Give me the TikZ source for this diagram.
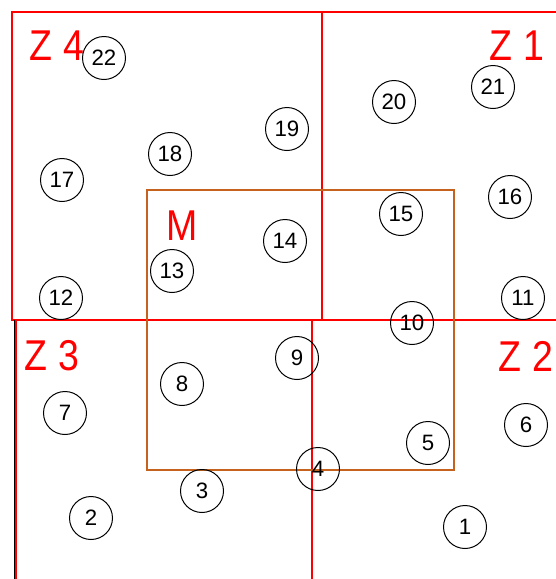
\documentclass[tikz,border=0pt]{standalone}
\usepackage{fontspec}
\setmainfont{Liberation Sans}
\definecolor{mbrown}{RGB}{196,98,30}
\tikzset{every picture/.style={line width=0.75pt}}
\tikzset{
    zone/.style={draw=red, line width=2pt},
    mzone/.style={draw=mbrown, line width=2.3pt},
    site/.style={circle, draw, line width=0.85pt, inner sep=0pt, minimum size=1.29cm,
        font=\fontsize{19}{19}\selectfont},
    zonelabel/.style={text=red, inner sep=0pt, yscale=1.15, font=\fontsize{32}{32}\selectfont}
}

\begin{document}
\begin{tikzpicture}[x=0.03cm, y=-0.03cm]
    \useasboundingbox (0,0) rectangle (556,579);
    \clip (0,0) rectangle (556,579);
    \begin{scope}
        \draw[zone] (12,12) rectangle (322,320);
        \draw[zone] (322,12) rectangle (600,320);
        \draw[black, line width=1pt] (14.3,320) -- (14.3,600);
        \draw[zone] (16,320) rectangle (312,620);
        \draw[zone] (312,320) rectangle (600,620);
        \draw[mzone] (147,190) rectangle (454,470);
    \end{scope}
    \node[zonelabel] (z4) at (57,46) {Z 4};
    \node[zonelabel] (z1) at (517,46) {Z 1};
    \node[zonelabel] (z3) at (52,356) {Z 3};
    \node[zonelabel] (z2) at (526,356) {Z 2};
    \node[zonelabel] (m) at (182,226) {M};
    \foreach \n/\x/\y in {1/465/527, 2/91/518, 3/202/491, 4/318/469, 5/428/443,
        6/526/425, 7/65/413, 8/182/384, 9/297/358, 10/412/323, 11/523/298,
        12/61/298, 13/172/271, 14/285/241, 15/401/214, 16/510/197, 17/62/180,
        18/170/154, 19/287/129, 20/394/102, 21/493/87, 22/104/58}
        \node[site] (s\n) at (\x,\y) {\n};
\end{tikzpicture}
\end{document}
